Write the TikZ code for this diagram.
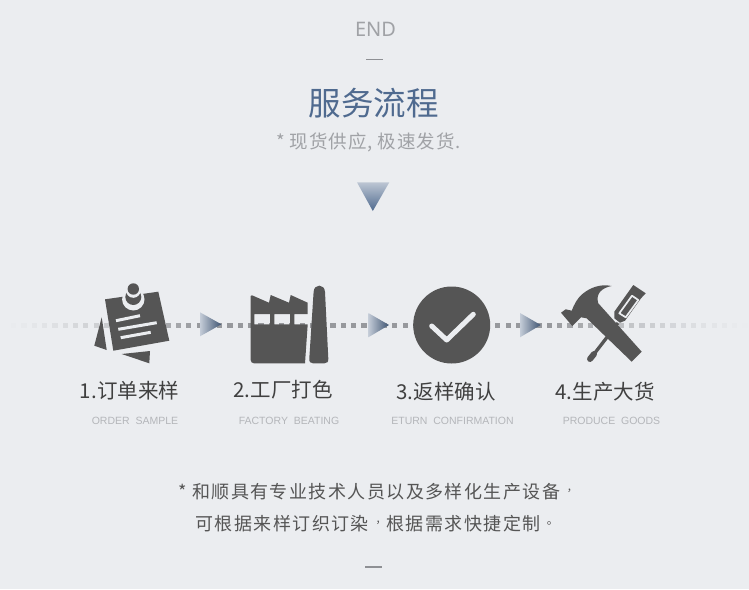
\documentclass[tikz,border=0pt]{standalone}
\usepackage{graphicx}
\usepackage{fontspec}
\setmainfont{Liberation Sans}
\newfontfamily\cjk{Noto Sans CJK SC}
\newfontfamily\cjkbody[LetterSpace=8]{Noto Sans CJK SC}
\newfontfamily\cjksub[LetterSpace=5]{Noto Sans CJK SC}
\newfontfamily\cjkend{Noto Sans}
\definecolor{pagebg}{HTML}{EBEDF0}
\definecolor{icondark}{HTML}{555555}
\definecolor{titleblue}{HTML}{4F6A8F}
\definecolor{softgrey}{HTML}{A0A2A6}
\definecolor{labeltext}{HTML}{404040}
\definecolor{engtext}{HTML}{B4B6BA}
\definecolor{bodytext}{HTML}{555555}
\definecolor{dashgrey}{HTML}{97999D}
\definecolor{rulegrey}{HTML}{8E9094}
\newcommand{\midcomma}{\hspace{.38em}\raisebox{.36em}{\scalebox{.6}{，}}}
\newcommand{\midstop}{\hspace{.35em}\raisebox{.3em}{\scalebox{.65}{。}}}
\tikzset{
  txt/.style={inner sep=0pt,anchor=center},
  steplabel/.style={txt,text=labeltext,font=\cjk\fontsize{20.5}{24}\selectfont},
  englabel/.style={txt,text=engtext,font=\fontsize{10.5}{12}\selectfont},
  bodyline/.style={txt,text=bodytext,font=\cjkbody\fontsize{18}{22}\selectfont},
  icon/.style={fill=icondark,draw=none},
  cut/.style={fill=pagebg,draw=none},
  rule/.style={draw=rulegrey,line width=1.5pt},
  flowarrow/.style={left color=titleblue!25!pagebg,right color=titleblue!80!black,draw=none}
}
\begin{document}
\begin{tikzpicture}[x=1pt,y=-1pt]
\fill[pagebg,use as bounding box] (0,0) rectangle (749,589);
% headings
\node[txt,text=softgrey,font=\cjkend\fontsize{20}{22}\selectfont] (endword) at (375.5,29.5) {END};
\coordinate (r1a) at (366,59.5); \coordinate (r1b) at (382.5,59.5);
\draw[rule] (r1a) -- (r1b);
\node[txt,text=titleblue,font=\cjk\fontsize{32.5}{38}\selectfont] (title) at (373.5,103) {服务流程};
\node[txt,text=softgrey,font=\cjksub\fontsize{18.5}{22}\selectfont] (subtitle) at (368.5,142) {* 现货供应, 极速发货.};
\shade[top color=titleblue!30!pagebg,bottom color=titleblue] (357,182.3) -- (389.3,182.3) -- (372.8,211) -- cycle;
% dotted band
\foreach \i in {-24,...,49}{
  \pgfmathsetmacro{\xx}{248+\i*10.3}
  \pgfmathsetmacro{\op}{\xx<200 ? max(0,\xx/200)^1.4 : (\xx>545 ? max(0,(749-\xx)/204)^1.4 : 1)}
  \fill[dashgrey,opacity=\op] (\xx,322.7) rectangle ++(5.2,4.8);
}
% arrows
\shade[flowarrow] (200,312.3) -- (200,336.3) -- (221.3,324.3) -- cycle;
\shade[flowarrow] (368.3,313) -- (368.3,337.3) -- (389,325) -- cycle;
\shade[flowarrow] (520,313) -- (520,337.3) -- (540.7,325) -- cycle;
% icon 1: note
\fill[icon] (101.7,317.3) -- (94.3,345.7) -- (106.7,350) -- cycle;
\fill[icon] (121.7,354) -- (150,351) -- (149.3,363.3) -- cycle;
\fill[icon] (105,299.3) -- (158.3,291.7) -- (169.3,340.7) -- (113.3,350.7) -- cycle;
\fill[cut] (133.3,299.3) circle (11.2);
\fill[icon] (133.3,297) circle (8);
\fill[cut] (133.3,290.5) circle (7.3);
\fill[icon] (133.3,289) circle (5.7);
\draw[pagebg,line width=3pt] (116,320.7) -- (140,315.7);
\draw[pagebg,line width=3pt] (118.3,329.3) -- (156.7,322.7);
\draw[pagebg,line width=3pt] (120.7,337.7) -- (150.7,332.3);
% icon 2: factory
\fill[icon,even odd rule]
  (250.7,296) .. controls (250.7,295) and (251,295) .. (252,295.3) -- (269,302.7) -- (270.7,295) -- (289,302.7) -- (290.7,295) -- (307.7,302.7)
  -- (307.7,314) -- (294.3,314) -- (294.3,324.3) -- (307.7,324.3) -- (305,363.3)
  -- (254,363.3) .. controls (252,363.3) and (250.7,362) .. (250.7,360) -- cycle
  (254.3,314) rectangle (270,324.3)
  (274.3,314) rectangle (290,324.3);
\fill[icon] (313.6,292) .. controls (314,283.5) and (324.6,283.5) .. (325,292)
  -- (328.3,358.5) .. controls (328.5,362) and (327,363.3) .. (324.5,363.3)
  -- (313,363.3) .. controls (310.5,363.3) and (309,362) .. (309.3,358.5) -- cycle;
% icon 3: check
\fill[icon] (451.7,325) circle (38.5);
\draw[pagebg,line width=5pt,line cap=round,line join=round] (431.7,326) -- (446.7,340) -- (473.3,314.3);
% icon 4: tools
\draw[icondark,line width=3.3pt] (618,323) -- (593.3,355);
\draw[icondark,line width=6pt,line cap=round] (594,354) -- (590,359);
\fill[icon] (633.3,285) -- (645.7,293.3) -- (641,298.3) -- (625,320.7) -- (620,322.7) -- (614.3,318.3) -- (614.3,311.7) -- cycle;
\draw[pagebg,line width=1.7pt,line join=round] (632,295.7) -- (638.3,300) -- (625.7,317.3) -- (619.3,313.3) -- cycle;
\fill[icon] (561,312.7) -- (565.7,309.3) -- (571.7,310.7)
  .. controls (574,305) and (577,298) .. (583.3,293.3)
  .. controls (590,288) and (600,283.5) .. (611.7,286)
  .. controls (603,287.5) and (595,293) .. (598.3,303.3)
  -- (641.7,351.7) -- (631.7,361.7) -- (586.7,318.3) -- (581,317.3) -- (577.7,320.7) -- (572.3,326) -- cycle;
% step labels
\node[steplabel] (s1) at (129.5,391) {1.订单来样};
\node[steplabel] (s2) at (283,390) {2.工厂打色};
\node[steplabel] (s3) at (446,392) {3.返样确认};
\node[steplabel] (s4) at (605,392) {4.生产大货};
\node[englabel] (e1) at (135,420.5) {ORDER\ \ SAMPLE};
\node[englabel] (e2) at (289,420.5) {FACTORY\ \ BEATING};
\node[englabel] (e3) at (452.5,420.5) {ETURN\ \ CONFIRMATION};
\node[englabel] (e4) at (611.5,420.5) {PRODUCE\ \ GOODS};
% body
\node[bodyline] (b1) at (378,491.5) {* 和顺具有专业技术人员以及多样化生产设备\midcomma};
\node[bodyline] (b2) at (377,523.5) {可根据来样订织订染\midcomma 根据需求快捷定制\midstop};
\coordinate (r2a) at (365,567); \coordinate (r2b) at (381.5,567);
\draw[rule] (r2a) -- (r2b);
\end{tikzpicture}
\end{document}
